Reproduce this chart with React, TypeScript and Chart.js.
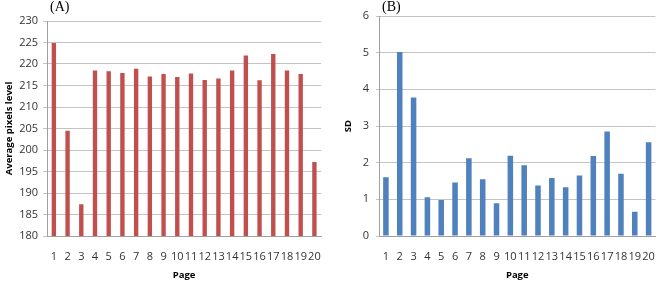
import React, { useEffect, useRef } from "react";
import { Chart, registerables } from "chart.js";

Chart.register(...registerables);

const pages = ["1","2","3","4","5","6","7","8","9","10","11","12","13","14","15","16","17","18","19","20"];
const avgPixels = [224.9, 204.5, 187.4, 218.5, 218.3, 217.9, 218.9, 217.1, 217.7, 217.0, 217.8, 216.3, 216.6, 218.5, 222.0, 216.2, 222.3, 218.5, 217.7, 197.2];
const sdValues = [1.60, 5.02, 3.78, 1.06, 0.98, 1.46, 2.12, 1.55, 0.89, 2.19, 1.93, 1.38, 1.58, 1.33, 1.65, 2.18, 2.85, 1.70, 0.66, 2.56];

const FONT = "'Open Sans', 'Noto Sans', sans-serif";
const TICK_COLOR = "#333333";
const GRID_COLOR = "#c4c4c4";
const AXIS_COLOR = "#a0a0a0";

type Cfg = {
  data: number[];
  color: string;
  min: number;
  max: number;
  step: number;
  yTitle: string;
  yWidth: number;
  xHeight: number;
  padTop: number;
  padRight: number;
  barPct: number;
  titlePadTop: number;
  tickLen: number;
  yTickPad: number;
};

function makeChart(canvas: HTMLCanvasElement, c: Cfg) {
  return new Chart(canvas, {
    type: "bar",
    data: {
      labels: pages,
      datasets: [
        {
          data: c.data,
          backgroundColor: c.color,
          barPercentage: c.barPct,
          categoryPercentage: 1,
        },
      ],
    },
    options: {
      animation: false,
      responsive: false,
      maintainAspectRatio: false,
      layout: { padding: { top: c.padTop, right: c.padRight, left: 0, bottom: 0 } },
      plugins: { legend: { display: false }, tooltip: { enabled: false } },
      scales: {
        x: {
          offset: true,
          grid: { display: false, drawTicks: false },
          border: { display: true, color: AXIS_COLOR, width: 1 },
          ticks: { font: { family: FONT, size: 11 }, color: TICK_COLOR, padding: 14, maxRotation: 0, autoSkip: false },
          title: {
            display: true,
            text: "Page",
            font: { family: FONT, size: 9.5, weight: "bold" },
            color: "#000000",
            padding: { top: 0, bottom: 2 },
          },
          afterFit: (s: any) => {
            s.height = c.xHeight;
          },
        },
        y: {
          min: c.min,
          max: c.max,
          grid: { color: GRID_COLOR, tickLength: c.tickLen, drawTicks: true },
          border: { display: true, color: AXIS_COLOR, width: 1 },
          ticks: { stepSize: c.step, font: { family: FONT, size: 11 }, color: TICK_COLOR, padding: c.yTickPad },
          title: {
            display: true,
            text: c.yTitle,
            font: { family: FONT, size: 9.5, weight: "bold" },
            color: "#000000",
            padding: { top: c.titlePadTop, bottom: 0 },
          },
          afterFit: (s: any) => {
            s.width = c.yWidth;
          },
        },
      },
    },
  } as any);
}

function Panel(props: { cfg: Cfg; left: number; width: number; label: string; labelLeft: number }) {
  const ref = useRef<HTMLCanvasElement | null>(null);
  useEffect(() => {
    if (!ref.current) return;
    const ch = makeChart(ref.current, props.cfg);
    return () => ch.destroy();
  }, []);
  return (
    <>
      <canvas
        ref={ref}
        width={props.width}
        height={283}
        style={{ position: "absolute", left: props.left, top: 0, width: props.width, height: 283 }}
      />
      <div
        style={{
          position: "absolute",
          left: props.labelLeft,
          top: 0,
          fontFamily: "'Liberation Serif', 'Times New Roman', serif",
          fontSize: 14,
          lineHeight: "14px",
          color: "#000",
        }}
      >
        {props.label}
      </div>
    </>
  );
}

export default function App() {
  const cfgA: Cfg = {
    data: avgPixels,
    color: "#C0504D",
    min: 180,
    max: 230,
    step: 5,
    yTitle: "Average pixels level",
    yWidth: 47,
    xHeight: 47,
    padTop: 21,
    padRight: 12,
    barPct: 0.32,
    titlePadTop: 4,
    tickLen: 4,
    yTickPad: 5,
  };
  const cfgB: Cfg = {
    data: sdValues,
    color: "#4F81BD",
    min: 0,
    max: 6,
    step: 1,
    yTitle: "SD",
    yWidth: 44,
    xHeight: 47,
    padTop: 16,
    padRight: 4,
    barPct: 0.4,
    titlePadTop: 8,
    tickLen: 3,
    yTickPad: 7,
  };
  return (
    <div style={{ position: "fixed", left: 0, top: 0, width: 669, height: 283, background: "#fff", overflow: "hidden" }}>
      <Panel cfg={cfgA} left={0} width={335} label="(A)" labelLeft={50} />
      <Panel cfg={cfgB} left={335} width={334} label="(B)" labelLeft={382} />
    </div>
  );
}
